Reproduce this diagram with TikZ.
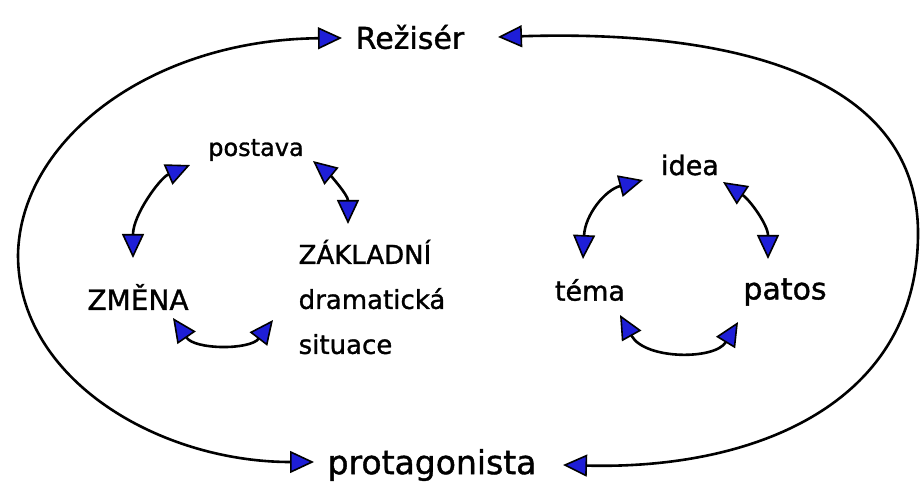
\documentclass[tikz,border=0pt]{standalone}
\usepackage{fontspec}
\newfontfamily\hand[FakeBold=1.2]{DejaVu Sans}
\usetikzlibrary{arrows.meta}
\definecolor{penblue}{RGB}{30,30,215}
\begin{document}
\begin{tikzpicture}[x=1pt,y=-1pt,
  >={Triangle[length=24pt,width=22pt,fill=penblue,line width=1.6pt]},
  lbl/.style={inner sep=0pt, text=black},
  link/.style={<->, line width=2.6pt, draw=black, line join=round}]
\useasboundingbox[fill=white] (0,0) rectangle (921,502);

% labels
\node[lbl, font=\hand\fontsize{30}{34}\selectfont] (rez)   at (410,37)  {Režisér};
\node[lbl, font=\hand\fontsize{24}{28}\selectfont] (post)  at (256,150) {postava};
\node[lbl, font=\hand\fontsize{28}{32}\selectfont] (zmena) at (138,297) {ZMĚNA};
\node[lbl, align=left, font=\hand\fontsize{26}{45}\selectfont] (zak) at (372,297)
  {ZÁKLADNÍ\\dramatická\\situace};
\node[lbl, font=\hand\fontsize{27}{31}\selectfont] (idea)  at (690,165) {idea};
\node[lbl, font=\hand\fontsize{27}{31}\selectfont] (tema)  at (590,290) {téma};
\node[lbl, font=\hand\fontsize{30}{34}\selectfont] (patos) at (785,292) {patos};
\node[lbl, font=\hand\fontsize{33}{37}\selectfont] (prot)  at (432,465) {protagonista};

% outer loop
\draw[link] ([shift={(-68,1)}]rez.center)
  .. controls (150,40) and (20,140) .. (18,255)
  .. controls (18,380) and (160,462) .. ([shift={(-118,-3)}]prot.center);
\draw[link] ([shift={(88,0)}]rez.center)
  .. controls (720,30) and (915,70) .. (918,230)
  .. controls (920,400) and (760,470) .. ([shift={(131,0)}]prot.center);

% left cycle
\draw[link] ([shift={(-66,15)}]post.center)
  .. controls (160,178) and (133,215) .. ([shift={(-5,-39)}]zmena.center);
\draw[link] ([shift={(57,11)}]post.center)
  .. controls (330,175) and (348,195) .. ([shift={(-24,-73)}]zak.center);
\draw[link] ([shift={(35,21)}]zmena.center)
  .. controls (195,350) and (250,350) .. ([shift={(-99,23)}]zak.center);

% right cycle
\draw[link] ([shift={(-47,15)}]idea.center)
  .. controls (605,190) and (585,215) .. ([shift={(-7,-31)}]tema.center);
\draw[link] ([shift={(33,17)}]idea.center)
  .. controls (750,200) and (768,225) .. ([shift={(-17,-33)}]patos.center);
\draw[link] ([shift={(30,25)}]tema.center)
  .. controls (645,360) and (715,360) .. ([shift={(-47,30)}]patos.center);
\end{tikzpicture}
\end{document}
